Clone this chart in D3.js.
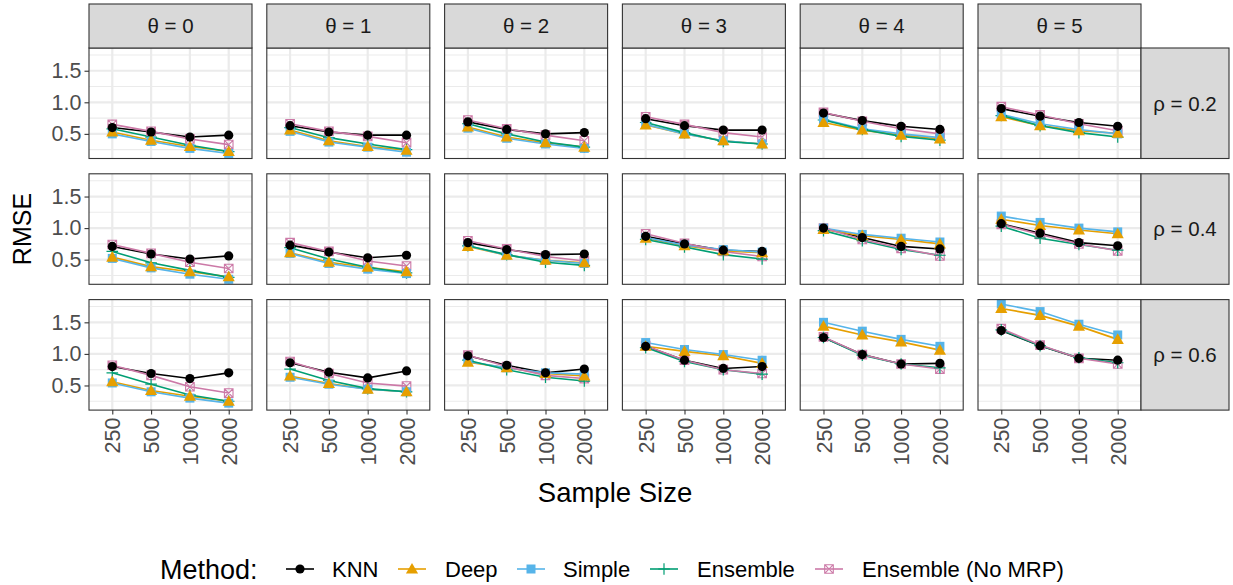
<!DOCTYPE html>
<html>
<head>
<meta charset="utf-8">
<script src="https://cdn.jsdelivr.net/npm/d3@7"></script>
<style>
  html, body { margin: 0; padding: 0; background: #ffffff; }
  svg { display: block; font-family: "Liberation Sans", Arial, sans-serif; }
</style>
</head>
<body>
<svg id="chart" width="1233" height="585"></svg>
<script>
// Facet levels and x categories
const sampleSizes = ["250", "500", "1000", "2000"];
const thetas = [0, 1, 2, 3, 4, 5];
const rhos = ["0.2", "0.4", "0.6"];
const methods = ["KNN", "Deep", "Simple", "Ensemble", "Ensemble (No MRP)"];
const yTicks = [0.5, 1.0, 1.5];
const yMinorTicks = [0.25, 0.75, 1.25, 1.75];

// RMSE by method: [rho][theta][sample size]
const knn = [
  [[0.60, 0.53, 0.45, 0.48], [0.63, 0.53, 0.48, 0.48], [0.69, 0.57, 0.50, 0.52], [0.74, 0.63, 0.56, 0.56], [0.83, 0.71, 0.62, 0.57], [0.90, 0.78, 0.68, 0.62]],
  [[0.71, 0.59, 0.51, 0.56], [0.73, 0.62, 0.53, 0.57], [0.77, 0.66, 0.58, 0.59], [0.87, 0.75, 0.65, 0.63], [1.00, 0.85, 0.71, 0.67], [1.07, 0.92, 0.77, 0.72]],
  [[0.80, 0.69, 0.61, 0.70], [0.86, 0.71, 0.62, 0.73], [0.97, 0.82, 0.70, 0.76], [1.12, 0.90, 0.77, 0.80], [1.26, 0.99, 0.84, 0.85], [1.37, 1.13, 0.93, 0.90]]
];
const deep = [
  [[0.53, 0.40, 0.30, 0.22], [0.56, 0.39, 0.30, 0.24], [0.61, 0.45, 0.36, 0.29], [0.64, 0.50, 0.39, 0.34], [0.68, 0.56, 0.48, 0.42], [0.77, 0.63, 0.55, 0.51]],
  [[0.54, 0.39, 0.31, 0.23], [0.61, 0.46, 0.38, 0.31], [0.71, 0.57, 0.49, 0.45], [0.84, 0.72, 0.64, 0.61], [0.98, 0.88, 0.82, 0.75], [1.14, 1.04, 0.97, 0.91]],
  [[0.56, 0.42, 0.33, 0.25], [0.65, 0.53, 0.44, 0.40], [0.87, 0.78, 0.69, 0.65], [1.12, 1.04, 0.97, 0.85], [1.44, 1.30, 1.19, 1.06], [1.72, 1.61, 1.44, 1.23]]
];
const simple = [
  [[0.50, 0.38, 0.27, 0.19], [0.54, 0.37, 0.29, 0.21], [0.59, 0.43, 0.34, 0.27], [0.65, 0.50, 0.39, 0.34], [0.73, 0.58, 0.50, 0.44], [0.81, 0.66, 0.57, 0.50]],
  [[0.52, 0.37, 0.27, 0.19], [0.60, 0.44, 0.35, 0.28], [0.72, 0.57, 0.49, 0.44], [0.85, 0.73, 0.66, 0.62], [1.00, 0.90, 0.84, 0.78], [1.19, 1.09, 1.00, 0.94]],
  [[0.54, 0.40, 0.30, 0.22], [0.63, 0.52, 0.44, 0.40], [0.88, 0.78, 0.70, 0.68], [1.18, 1.07, 0.99, 0.90], [1.50, 1.36, 1.23, 1.12], [1.79, 1.67, 1.47, 1.30]]
];
const ensemble = [
  [[0.58, 0.45, 0.32, 0.22], [0.60, 0.44, 0.34, 0.25], [0.66, 0.50, 0.37, 0.29], [0.68, 0.52, 0.38, 0.34], [0.72, 0.57, 0.46, 0.40], [0.79, 0.63, 0.52, 0.45]],
  [[0.63, 0.45, 0.33, 0.22], [0.69, 0.51, 0.38, 0.29], [0.72, 0.58, 0.46, 0.41], [0.82, 0.70, 0.58, 0.51], [0.96, 0.80, 0.66, 0.57], [1.03, 0.84, 0.74, 0.65]],
  [[0.70, 0.52, 0.35, 0.25], [0.76, 0.58, 0.45, 0.40], [0.90, 0.75, 0.63, 0.57], [1.10, 0.88, 0.75, 0.68], [1.26, 0.98, 0.84, 0.78], [1.38, 1.13, 0.94, 0.86]]
];
const noMrp = [
  [[0.65, 0.54, 0.42, 0.33], [0.66, 0.54, 0.46, 0.36], [0.72, 0.58, 0.48, 0.39], [0.77, 0.65, 0.52, 0.45], [0.84, 0.70, 0.58, 0.50], [0.93, 0.80, 0.66, 0.55]],
  [[0.74, 0.60, 0.46, 0.36], [0.77, 0.63, 0.48, 0.40], [0.80, 0.67, 0.55, 0.48], [0.91, 0.76, 0.63, 0.55], [1.00, 0.82, 0.68, 0.56], [1.06, 0.90, 0.75, 0.64]],
  [[0.82, 0.66, 0.48, 0.38], [0.88, 0.69, 0.54, 0.49], [0.98, 0.80, 0.66, 0.61], [1.13, 0.90, 0.75, 0.69], [1.27, 0.99, 0.84, 0.76], [1.40, 1.14, 0.93, 0.84]]
];

const seriesData = [knn, deep, simple, ensemble, noMrp];
const colors = ["#000000", "#E69F00", "#56B4E9", "#009E73", "#CC79A7"];
const shapes = ["circle", "triangle", "square", "plus", "squareX"];

// Layout
const svg = d3.select("#chart");
const panelLeft = 89, panelW = 163, colStep = 177.8;
const panelTop = 48, panelH = 110.5, rowStep = 125.8;
const stripTop = 4, stripH = 44;
const rightStripW = 88;
const tickFont = "21.5px";

const x = d3.scalePoint().domain(sampleSizes).range([0, panelW]).padding(0.6);
const y = d3.scaleLinear().domain([0.11, 1.86]).range([panelH, 0]);

function drawShape(g, shape, color, cx, cy) {
  if (shape === "circle") {
    g.append("circle").attr("cx", cx).attr("cy", cy).attr("r", 4.6).attr("fill", color);
  } else if (shape === "triangle") {
    const s = 5.8;
    g.append("path")
      .attr("d", `M${cx},${cy - s * 1.05}L${cx + s * 1.05},${cy + s * 0.78}L${cx - s * 1.05},${cy + s * 0.78}Z`)
      .attr("fill", color);
  } else if (shape === "square") {
    const s = 4.5;
    g.append("rect").attr("x", cx - s).attr("y", cy - s).attr("width", 2 * s).attr("height", 2 * s).attr("fill", color);
  } else if (shape === "plus") {
    const s = 5.8;
    g.append("path").attr("d", `M${cx - s},${cy}H${cx + s}M${cx},${cy - s}V${cy + s}`)
      .attr("stroke", color).attr("stroke-width", 1.2).attr("fill", "none");
  } else if (shape === "squareX") {
    const s = 4.3;
    g.append("path")
      .attr("d", `M${cx - s},${cy - s}H${cx + s}V${cy + s}H${cx - s}ZM${cx - s},${cy - s}L${cx + s},${cy + s}M${cx + s},${cy - s}L${cx - s},${cy + s}`)
      .attr("stroke", color).attr("stroke-width", 1.1).attr("fill", "none");
  }
}

const line = d3.line().x((d, i) => x(sampleSizes[i])).y(d => y(d));

rhos.forEach((rho, ri) => {
  const py = panelTop + ri * rowStep;
  thetas.forEach((theta, ti) => {
    const px = panelLeft + ti * colStep;
    const g = svg.append("g").attr("transform", `translate(${px},${py})`);

    // background and grid
    g.append("rect").attr("width", panelW).attr("height", panelH).attr("fill", "#ffffff");
    yMinorTicks.forEach(v => {
      if (y(v) > 0 && y(v) < panelH)
        g.append("line").attr("x1", 0).attr("x2", panelW).attr("y1", y(v)).attr("y2", y(v))
          .attr("stroke", "#EBEBEB").attr("stroke-width", 1.1);
    });
    yTicks.forEach(v => {
      g.append("line").attr("x1", 0).attr("x2", panelW).attr("y1", y(v)).attr("y2", y(v))
        .attr("stroke", "#EBEBEB").attr("stroke-width", 2.2);
    });
    sampleSizes.forEach(s => {
      g.append("line").attr("x1", x(s)).attr("x2", x(s)).attr("y1", 0).attr("y2", panelH)
        .attr("stroke", "#EBEBEB").attr("stroke-width", 2.2);
    });

    // lines
    seriesData.forEach((ser, mi) => {
      g.append("path").datum(ser[ri][ti]).attr("d", line)
        .attr("fill", "none").attr("stroke", colors[mi]).attr("stroke-width", 1.6);
    });
    // points, drawn so KNN ends on top
    [4, 3, 2, 1, 0].forEach(mi => {
      seriesData[mi][ri][ti].forEach((v, i) => drawShape(g, shapes[mi], colors[mi], x(sampleSizes[i]), y(v)));
    });

    g.append("rect").attr("width", panelW).attr("height", panelH)
      .attr("fill", "none").attr("stroke", "#333333").attr("stroke-width", 1.1);

    // y axis on first column
    if (ti === 0) {
      const ax = svg.append("g").attr("transform", `translate(${px},${py})`)
        .call(d3.axisLeft(y).tickValues(yTicks).tickFormat(d3.format(".1f")).tickSize(4.5).tickPadding(3));
      ax.select(".domain").remove();
      ax.selectAll(".tick line").attr("stroke", "#333333").attr("stroke-width", 1.1);
      ax.selectAll(".tick text").attr("fill", "#4D4D4D").style("font-size", tickFont)
        .style("font-family", "'Liberation Sans', Arial, sans-serif");
    }
    // x axis on bottom row
    if (ri === rhos.length - 1) {
      const ax = svg.append("g").attr("transform", `translate(${px},${py + panelH})`)
        .call(d3.axisBottom(x).tickSize(4.5).tickPadding(3));
      ax.select(".domain").remove();
      ax.selectAll(".tick line").attr("stroke", "#333333").attr("stroke-width", 1.1);
      ax.selectAll(".tick text").attr("fill", "#4D4D4D").style("font-size", tickFont)
        .style("font-family", "'Liberation Sans', Arial, sans-serif")
        .attr("transform", "rotate(-90)")
        .attr("text-anchor", "end").attr("dy", "0.35em").attr("x", -7.5).attr("y", 0);
    }
    // top strips
    if (ri === 0) {
      svg.append("rect").attr("x", px).attr("y", stripTop).attr("width", panelW).attr("height", stripH)
        .attr("fill", "#D9D9D9").attr("stroke", "#333333").attr("stroke-width", 1.1);
      svg.append("text").attr("x", px + panelW / 2).attr("y", stripTop + stripH / 2)
        .attr("text-anchor", "middle").attr("dy", "0.36em")
        .attr("fill", "#1A1A1A").style("font-size", "20.5px")
        .text(`θ = ${theta}`);
    }
  });
  // right strips
  const sx = panelLeft + 5 * colStep + panelW;
  svg.append("rect").attr("x", sx).attr("y", py).attr("width", rightStripW).attr("height", panelH)
    .attr("fill", "#D9D9D9").attr("stroke", "#333333").attr("stroke-width", 1.1);
  svg.append("text").attr("x", sx + rightStripW / 2).attr("y", py + panelH / 2)
    .attr("text-anchor", "middle").attr("dy", "0.36em")
    .attr("fill", "#1A1A1A").style("font-size", "20.5px")
    .text(`ρ = ${rho}`);
});

// axis titles
const gridRight = panelLeft + 5 * colStep + panelW;
svg.append("text").attr("x", (panelLeft + gridRight) / 2).attr("y", 502)
  .attr("text-anchor", "middle").attr("fill", "#000000").style("font-size", "27.5px").text("Sample Size");
const midY = panelTop + (2 * rowStep + panelH) / 2;
svg.append("text").attr("transform", `translate(31,${midY}) rotate(-90)`)
  .attr("text-anchor", "middle").attr("fill", "#000000").style("font-size", "25px").text("RMSE");

// legend
const legendY = 569;
svg.append("text").attr("x", 160).attr("y", 579).attr("fill", "#000000").style("font-size", "27px").text("Method:");
const keyCenters = [300, 412, 531, 664, 829];
const labelX = [332, 445, 563, 697, 862];
methods.forEach((m, mi) => {
  const g = svg.append("g");
  g.append("line").attr("x1", keyCenters[mi] - 14).attr("x2", keyCenters[mi] + 14)
    .attr("y1", legendY).attr("y2", legendY).attr("stroke", colors[mi]).attr("stroke-width", 1.6);
  drawShape(g, shapes[mi], colors[mi], keyCenters[mi], legendY);
  svg.append("text").attr("x", labelX[mi]).attr("y", 577).attr("fill", "#000000").style("font-size", "22px").text(m);
});
</script>
</body>
</html>
